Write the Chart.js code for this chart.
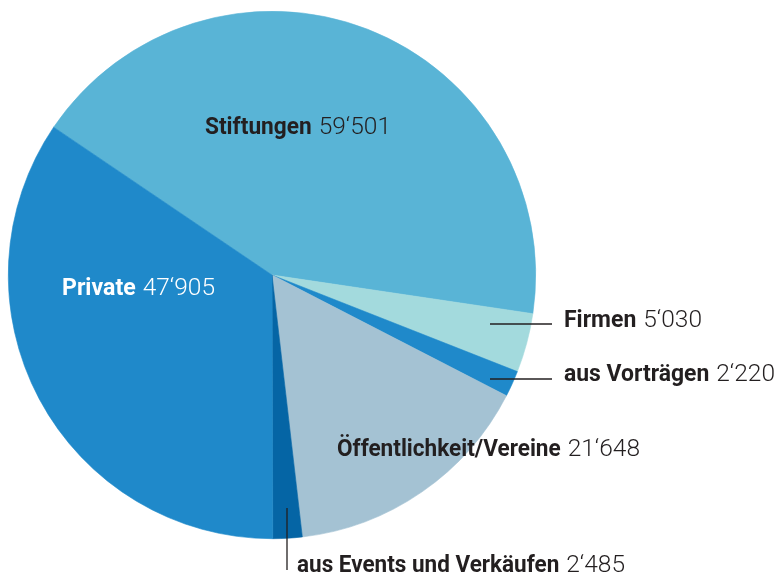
<!DOCTYPE html>
<html>
<head>
<meta charset="utf-8">
<script src="https://cdn.jsdelivr.net/npm/chart.js@4/dist/chart.umd.min.js"></script>
<style>
html,body{margin:0;padding:0;background:#fff;}
#wrap{width:775px;height:574px;position:relative;}
</style>
</head>
<body>
<div id="wrap"><canvas id="c" width="775" height="574"></canvas></div>
<script>
const categories = ["Stiftungen", "Firmen", "aus Vorträgen", "Öffentlichkeit/Vereine", "aus Events und Verkäufen", "Private"];
const values = [59501, 5030, 2220, 21648, 2485, 47905];
const valueLabels = ["59‘501", "5‘030", "2‘220", "21‘648", "2‘485", "47‘905"];
const colors = ["#59b4d6", "#a3dadd", "#1f89ca", "#a4c2d3", "#0565a5", "#1f89ca"];

// label layout: [left x, baseline y, total width, text colour]
const labelLayout = [
  [205, 134, 186, "#231f20"],
  [564, 327, 138, "#231f20"],
  [564, 381, 211, "#231f20"],
  [337, 456, 303, "#231f20"],
  [297, 572, 328, "#231f20"],
  [62, 295, 153, "#ffffff"]
];
// leader lines [x1,y1,x2,y2] for small slices
const leaders = [null, [490,324,552,324], [490,379,552,379], null, [287,508,287,570], null];

const labelPlugin = {
  id: 'labels',
  afterDraw(chart) {
    const ctx = chart.ctx;
    ctx.save();
    ctx.strokeStyle = "#231f20";
    ctx.lineWidth = 1.3;
    leaders.forEach(l => {
      if (!l) return;
      ctx.beginPath();
      ctx.moveTo(l[0], l[1]);
      ctx.lineTo(l[2], l[3]);
      ctx.stroke();
    });
    const boldFont = "bold 24px Roboto, 'Liberation Sans', sans-serif";
    const lightFont = "300 24.5px Roboto, 'Liberation Sans', sans-serif";
    const gap = 7;
    categories.forEach((name, i) => {
      const [x, y, w, col] = labelLayout[i];
      ctx.font = lightFont;
      const w2 = ctx.measureText(valueLabels[i]).width;
      ctx.font = boldFont;
      const w1 = ctx.measureText(name).width;
      const target1 = w - gap - w2;
      const s = target1 / w1;
      ctx.fillStyle = col;
      ctx.textBaseline = 'alphabetic';
      ctx.textAlign = 'left';
      ctx.save();
      ctx.translate(x, y);
      ctx.scale(s, 1);
      ctx.font = boldFont;
      ctx.fillText(name, 0, 0);
      ctx.restore();
      ctx.font = lightFont;
      ctx.fillText(valueLabels[i], x + target1 + gap, y);
    });
    ctx.restore();
  }
};

new Chart(document.getElementById('c'), {
  type: 'pie',
  data: {
    labels: categories,
    datasets: [{
      data: values,
      backgroundColor: colors,
      borderColor: colors,
      borderWidth: 0.6
    }]
  },
  options: {
    responsive: false,
    animation: false,
    rotation: -55.9,
    layout: { padding: { left: 8, top: 11, right: 239, bottom: 35 } },
    plugins: { legend: { display: false }, tooltip: { enabled: false } }
  },
  plugins: [labelPlugin]
});
</script>
</body>
</html>
